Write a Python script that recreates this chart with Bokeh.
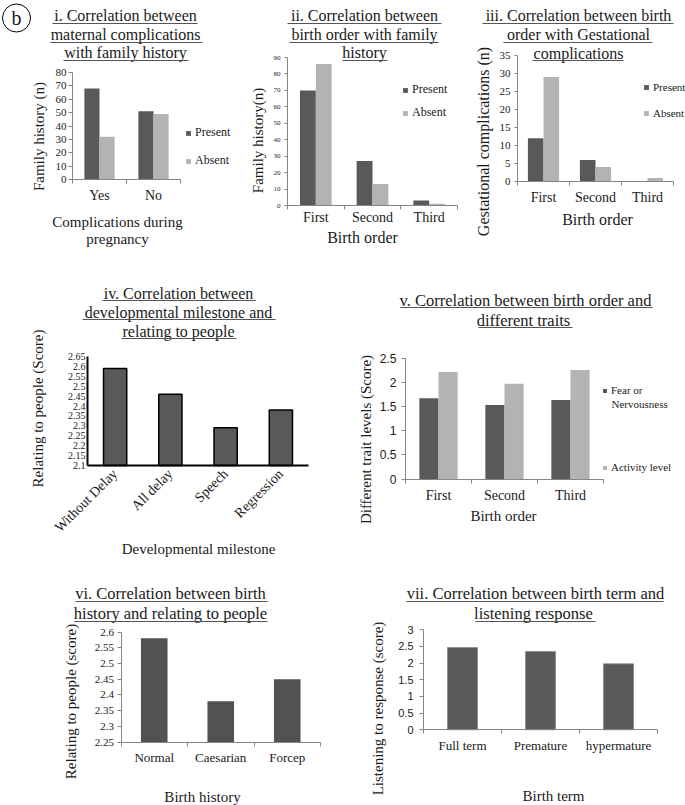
import numpy as np
from math import pi
from bokeh.plotting import figure
from bokeh.models import Range1d, FixedTicker, Legend, LegendItem, Label, BoxAnnotation
from bokeh.layouts import row, column
from bokeh.embed import file_html
from bokeh.resources import INLINE

# ---------------- data ----------------
i_categories = ["Yes", "No"]
i_present = [68, 51]
i_absent = [32, 49]
i_yticks = [0, 10, 20, 30, 40, 50, 60, 70, 80]

ii_categories = ["First", "Second", "Third"]
ii_present = [70, 27, 3]
ii_absent = [86, 13, 1]
ii_yticks = [0, 10, 20, 30, 40, 50, 60, 70, 80, 90]

iii_categories = ["First", "Second", "Third"]
iii_present = [12, 6, 0]
iii_absent = [29, 4, 1]
iii_yticks = [0, 5, 10, 15, 20, 25, 30, 35]

iv_categories = ["Without Delay", "All delay", "Speech", "Regression"]
iv_scores = [2.59, 2.46, 2.29, 2.38]
iv_yticks = [2.1, 2.15, 2.2, 2.25, 2.3, 2.35, 2.4, 2.45, 2.5, 2.55, 2.6, 2.65]
iv_ytick_labels = ["2.1", "2.15", "2.2", "2.25", "2.3", "2.35", "2.4", "2.45", "2.5", "2.55", "2.6", "2.65"]

v_categories = ["First", "Second", "Third"]
v_fear = [1.67, 1.53, 1.63]
v_activity = [2.21, 1.97, 2.25]
v_yticks = [0, 0.5, 1, 1.5, 2, 2.5]
v_ytick_labels = ["0", "0.5", "1", "1.5", "2", "2.5"]

vi_categories = ["Normal", "Caesarian", "Forcep"]
vi_scores = [2.58, 2.38, 2.45]
vi_yticks = [2.25, 2.3, 2.35, 2.4, 2.45, 2.5, 2.55, 2.6]
vi_ytick_labels = ["2.25", "2.3", "2.35", "2.4", "2.45", "2.5", "2.55", "2.6"]

vii_categories = ["Full term", "Premature", "hypermature"]
vii_scores = [2.47, 2.35, 1.98]
vii_yticks = [0, 0.5, 1, 1.5, 2, 2.5, 3]
vii_ytick_labels = ["0", "0.5", "1", "1.5", "2", "2.5", "3"]

# ---------------- style ----------------
SERIF = "Liberation Serif"
SANS = "Liberation Sans"
DARK = "#595959"
LIGHT = "#b3b3b3"
AXIS = "#868686"
TXT = "#1a1a1a"


class P:
    """One panel: the frame fills the whole figure; axes sit at fixed data locations."""

    def __init__(self, region, box, n, ylim):
        X0, Y0, X1, Y1 = region
        XL, YT, XR, YB = box
        ymin, ymax = ylim
        self.X0, self.Y1 = X0, Y1
        kx = n / (XR - XL)
        ky = (ymax - ymin) / (YB - YT)
        xr = Range1d(-(XL - X0) * kx, n + (X1 - XR) * kx)
        yr = Range1d(ymin - (Y1 - YB) * ky, ymax + (YT - Y0) * ky)
        p = figure(width=X1 - X0, height=Y1 - Y0, x_range=xr, y_range=yr,
                   output_backend="svg", toolbar_location=None, title=None,
                   min_border=0, min_border_left=0, min_border_right=0,
                   min_border_top=0, min_border_bottom=0)
        try:
            p.frame_align = False
        except Exception:
            pass
        p.outline_line_color = None
        p.grid.visible = False
        p.background_fill_color = "white"
        p.border_fill_color = "white"
        p.xaxis.fixed_location = ymin
        p.yaxis.fixed_location = 0
        p.xaxis.bounds = (0, n)
        p.yaxis.bounds = (ymin, ymax)
        self.p = p
        self.n = n

    def sx(self, x):
        return x - self.X0

    def sy(self, y):
        return self.Y1 - y

    def label(self, text, x, y, size, angle=0.0, font=SERIF, align="center", color=TXT):
        self.p.add_layout(Label(x=self.sx(x), y=self.sy(y), x_units="screen", y_units="screen",
                                text=text, text_font=font, text_font_size=f"{size}px", text_color=color,
                                text_align=align, text_baseline="middle", angle=angle))

    def uline(self, xa, xb, y, color="#555555"):
        yy = self.sy(y)
        self.p.add_layout(BoxAnnotation(left=self.sx(xa), right=self.sx(xb), bottom=yy - 0.5, top=yy + 0.5,
                                        left_units="screen", right_units="screen",
                                        top_units="screen", bottom_units="screen",
                                        fill_color=color, fill_alpha=1.0, line_color=None))

    def title(self, lines, cx, ys, ulines, size=16):
        for t, y in zip(lines, ys):
            self.label(t, cx, y, size)
        for xa, xb, y in ulines:
            self.uline(xa, xb, y)

    def axes(self, cats, yticks, ylabels=None, yfont=SERIF, ysize=11, xsize=14,
             color=AXIS, width=1, ytick_out=4, ystand=2, xstand=8, xminor=True, xorient=None):
        p = self.p
        xa = p.xaxis[0]
        ya = p.yaxis[0]
        centers = [k + 0.5 for k in range(len(cats))]
        xa.ticker = FixedTicker(ticks=centers, minor_ticks=list(range(len(cats) + 1)) if xminor else [])
        xa.major_label_overrides = {c: t for c, t in zip(centers, cats)}
        xa.major_tick_line_color = None
        xa.major_tick_out = 0
        xa.major_tick_in = 0
        xa.minor_tick_line_color = color if xminor else None
        xa.minor_tick_out = 4
        xa.minor_tick_in = 0
        xa.axis_line_color = color
        xa.axis_line_width = width
        xa.major_label_text_font = SERIF
        xa.major_label_text_font_size = f"{xsize}px"
        xa.major_label_text_color = TXT
        xa.major_label_standoff = xstand
        if xorient is not None:
            xa.major_label_orientation = xorient
        ya.ticker = FixedTicker(ticks=yticks, minor_ticks=[])
        if ylabels is not None:
            ya.major_label_overrides = {v: t for v, t in zip(yticks, ylabels)}
        ya.axis_line_color = color
        ya.axis_line_width = width
        ya.major_tick_line_color = color if ytick_out > 0 else None
        ya.major_tick_out = ytick_out
        ya.major_tick_in = 0
        ya.minor_tick_line_color = None
        ya.major_label_text_font = yfont
        ya.major_label_text_font_size = f"{ysize}px"
        ya.major_label_text_color = TXT
        ya.major_label_standoff = ystand

    def legend(self, items, gx, ys, size, glyph=6, item_h=14):
        n = len(items)
        bottom = ys[-1] + item_h / 2
        spacing = int(round((ys[-1] - ys[0]) / (n - 1) - item_h)) if n > 1 else 0
        lg = Legend(items=items, location=(self.sx(gx), self.sy(bottom)),
                    spacing=spacing, padding=0, margin=0,
                    glyph_width=glyph, glyph_height=glyph, label_height=item_h,
                    label_standoff=4, label_text_font=SERIF, label_text_font_size=f"{size}px",
                    label_text_color=TXT, border_line_color=None, background_fill_alpha=0)
        self.p.add_layout(lg)


def idx(n):
    return np.arange(n) + 0.5


# ---------------- panel i ----------------
g1 = P((0, 0, 240, 250), (72, 72, 180, 179), 2, (0, 80))
x = idx(len(i_categories))
bw = 0.28
r1a = g1.p.vbar(x=x - bw / 2, top=i_present, width=bw, fill_color=DARK, line_color=None)
r1b = g1.p.vbar(x=x + bw / 2, top=i_absent, width=bw, fill_color=LIGHT, line_color=None)
g1.axes(i_categories, i_yticks, ysize=11, xsize=14, ytick_out=4, ystand=2, xstand=4)
g1.legend([LegendItem(label="Present", renderers=[r1a]), LegendItem(label="Absent", renderers=[r1b])],
          185, [134, 161], 12)
g1.title(["i. Correlation between", "maternal complications", "with family history"], 125, [15, 33.5, 52],
         [(52, 197, 23), (50, 202, 42), (63, 188, 60)])
g1.label("Family history (n)", 38, 136, 15, angle=pi / 2)
g1.label("Complications during", 117, 221, 15)
g1.label("pregnancy", 117, 238, 15)
_bkw = dict(x=g1.sx(16), y=g1.sy(17.5), x_units="screen", y_units="screen", text="b",
            text_font=SERIF, text_font_size="20px", text_align="center", text_baseline="middle",
            text_color=TXT, border_line_color="black", border_line_width=1, border_radius=14)
try:
    circ = Label(padding=dict(x=9, y=3), **_bkw)
except Exception:
    circ = Label(padding=5, **_bkw)
g1.p.add_layout(circ)

# ---------------- panel ii ----------------
g2 = P((240, 0, 466, 250), (287, 57, 457, 205), 3, (0, 90))
x = idx(len(ii_categories))
bw = 0.28
r2a = g2.p.vbar(x=x - bw / 2, top=ii_present, width=bw, fill_color=DARK, line_color=None)
r2b = g2.p.vbar(x=x + bw / 2, top=ii_absent, width=bw, fill_color=LIGHT, line_color=None)
g2.axes(ii_categories, ii_yticks, ysize=7, xsize=14, ytick_out=3, ystand=4, xstand=0)
g2.legend([LegendItem(label="Present", renderers=[r2a]), LegendItem(label="Absent", renderers=[r2b])],
          402, [91, 113], 12)
g2.title(["ii. Correlation between", "birth order with family", "history"], 364, [15, 33.5, 52],
         [(287, 441, 23), (289, 438, 42), (342, 387, 60)])
g2.label("Family history(n)", 257, 140, 15, angle=pi / 2)
g2.label("Birth order", 362, 237, 16)

# ---------------- panel iii ----------------
g3 = P((466, 0, 685, 250), (517, 55, 673, 181), 3, (0, 35))
x = idx(len(iii_categories))
bw = 0.3
r3a = g3.p.vbar(x=x - bw / 2, top=iii_present, width=bw, fill_color=DARK, line_color=None)
r3b = g3.p.vbar(x=x + bw / 2, top=iii_absent, width=bw, fill_color=LIGHT, line_color=None)
g3.axes(iii_categories, iii_yticks, ysize=11, xsize=14, ytick_out=3, ystand=4, xstand=4)
g3.legend([LegendItem(label="Present", renderers=[r3a]), LegendItem(label="Absent", renderers=[r3b])],
          643, [87, 113], 11)
g3.title(["iii. Correlation between birth", "order with Gestational", "complications"], 578, [15, 33.5, 53],
         [(482, 673, 23), (503, 652, 42), (532, 623, 60)])
g3.label("Gestational complications (n)", 483, 141, 16, angle=pi / 2)
g3.label("Birth order", 597, 219, 16)

# ---------------- panel iv ----------------
g4 = P((0, 250, 340, 560), (87, 356, 308, 465), 4, (2.1, 2.65))
x = idx(len(iv_categories))
g4.p.vbar(x=x, bottom=2.1, top=iv_scores, width=0.42, fill_color=DARK, line_color="black", line_width=1.5)
g4.axes(iv_categories, iv_yticks, iv_ytick_labels, ysize=10, xsize=14, color="black", width=2,
        ytick_out=0, ystand=2, xstand=6, xminor=False, xorient=pi / 4)
g4.title(["iv. Correlation between", "developmental milestone and", "relating to people"], 178,
         [293, 312, 331], [(102, 255, 300), (82, 275, 319), (121, 236, 338)])
g4.label("Relating to people (Score)", 37, 408, 15, angle=pi / 2)
g4.label("Developmental milestone", 198, 548, 15)

# ---------------- panel v ----------------
g5 = P((340, 250, 685, 560), (405, 357.5, 603, 478.5), 3, (0, 2.5))
x = idx(len(v_categories))
bw = 0.29
r5a = g5.p.vbar(x=x - bw / 2, top=v_fear, width=bw, fill_color=DARK, line_color=None)
r5b = g5.p.vbar(x=x + bw / 2, top=v_activity, width=bw, fill_color=LIGHT, line_color=None)
g5.axes(v_categories, v_yticks, v_ytick_labels, yfont=SANS, ysize=12, xsize=14, ytick_out=4, ystand=5, xstand=5)
g5.legend([LegendItem(label="Fear or", renderers=[r5a]), LegendItem(label="Activity level", renderers=[r5b])],
          602, [390, 467], 11, glyph=5)
g5.label("Nervousness", 611, 403.5, 11, align="left")
g5.title(["v. Correlation between birth order and", "different  traits"], 525, [300, 320],
         [(400, 652, 307), (478, 572, 327)], size=16.5)
g5.label("Different trait levels (Score)", 365, 439, 15, angle=pi / 2)
g5.label("Birth order", 503, 515, 15)

# ---------------- panel vi ----------------
g6 = P((0, 560, 340, 805), (120.5, 631.5, 320, 741.7), 3, (2.25, 2.6))
x = idx(len(vi_categories))
g6.p.vbar(x=x, bottom=2.25, top=vi_scores, width=0.4, fill_color="#525252", line_color=None)
g6.axes(vi_categories, vi_yticks, vi_ytick_labels, ysize=11, xsize=13, ytick_out=4, ystand=3, xstand=4)
g6.title(["vi. Correlation between birth", "history and relating to people"], 170, [593, 613],
         [(75, 267, 601), (74, 267, 621)], size=16.5)
g6.label("Relating to people (score)", 70.7, 701, 15, angle=pi / 2)
g6.label("Birth history", 202, 796, 15)

# ---------------- panel vii ----------------
g7 = P((340, 560, 685, 805), (423, 629.3, 657, 729.3), 3, (0, 3))
x = idx(len(vii_categories))
g7.p.vbar(x=x, top=vii_scores, width=0.385, fill_color=DARK, line_color="#8a8a8a", line_width=0.8)
g7.axes(vii_categories, vii_yticks, vii_ytick_labels, yfont=SANS, ysize=11, xsize=13, ytick_out=4, ystand=6,
        xstand=4)
g7.title(["vii. Correlation between birth term and", "listening  response"], 535, [593, 613],
         [(406, 663, 601), (475, 595, 621)], size=16.5)
g7.label("Listening to response (score)", 377, 708, 15, angle=pi / 2)
g7.label("Birth term", 553, 795, 15)

layout = column(row(g1.p, g2.p, g3.p), row(g4.p, g5.p), row(g6.p, g7.p))
open("out.html", "w").write(file_html(layout, INLINE))
